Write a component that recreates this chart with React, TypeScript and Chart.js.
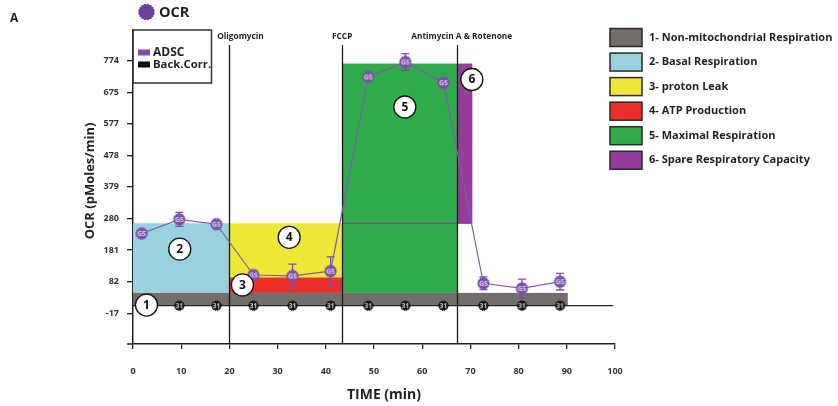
import React, { useEffect, useRef } from "react";
import { Chart, registerables } from "chart.js";

Chart.register(...registerables);

const FONT = "'Open Sans', 'DejaVu Sans', sans-serif";
const INK = "#231f20";

// Measurement times (min)
const timePoints = [1.8, 9.6, 17.3, 25.0, 33.1, 41.0, 48.8, 56.5, 64.4, 72.7, 80.7, 88.6];
// ADSC oxygen consumption rate (pMoles/min) and its SD
const adscOcr = [233, 277, 262, 103, 100, 115, 723, 770, 705, 77, 61, 82];
const adscSd = [0, 22, 8, 8, 37, 45, 0, 26, 0, 20, 29, 26];
// Background-corrected wells
const backCorrOcr = [7, 7, 7, 7, 7, 7, 7, 7, 7, 7, 7, 7];
const baselineSpan = [0, 99.6];

const xTickValues = [0, 10, 20, 30, 40, 50, 60, 70, 80, 90, 100];
const yTickValues = [-17, 82, 181, 280, 379, 478, 577, 675, 774];
const yRange = [-113, 870];

// Compound injections (min)
const injectionNames = ["Oligomycin", "FCCP", "Antimycin A & Rotenone"];
const injectionTimes = [20, 43.4, 67.3];
const injectionLabelTimes = [22.3, 43.4, 68.2];
const injectionLineTop = 823;

// Respiration parameter levels (pMoles/min)
const nonMitoLevels = [7, 47];
const basalLevel = 265;
const oligoLevel = 95;
const maximalLevel = 765;
const nonMitoEnd = 90.2;
const spareEnd = 70.4;

const legendNames = [
  "1- Non-mitochondrial Respiration",
  "2- Basal Respiration",
  "3- proton Leak",
  "4- ATP Production",
  "5- Maximal Respiration",
  "6- Spare Respiratory Capacity",
];
const legendColors = ["#736d6b", "#97d2dd", "#f0e836", "#ec2f2a", "#2fab4b", "#953d98"];

// Shaded regions: [t0, t1, v0, v1, colour index]
const regions: [number, number, number, number, number][] = [
  [0, injectionTimes[0], nonMitoLevels[1], basalLevel, 1],
  [injectionTimes[0], injectionTimes[1], nonMitoLevels[1], basalLevel, 2],
  [injectionTimes[0], injectionTimes[1], nonMitoLevels[1], oligoLevel, 3],
  [injectionTimes[1], injectionTimes[2], nonMitoLevels[1], maximalLevel, 4],
  [injectionTimes[2], spareEnd, basalLevel, maximalLevel, 5],
  [0, nonMitoEnd, nonMitoLevels[0], nonMitoLevels[1], 0],
];

// Numbered callouts: [label, time, OCR]
const callouts: [string, number, number][] = [
  ["1", 2.8, 9],
  ["2", 9.7, 184],
  ["3", 22.7, 72],
  ["4", 32.4, 221],
  ["5", 56.4, 629],
  ["6", 70.3, 715],
];

const ADSC_COLOR = "#7a4fa8";

function blobPath(g: CanvasRenderingContext2D, cx: number, cy: number, r: number) {
  const n = 16;
  g.beginPath();
  for (let i = 0; i <= 2 * n; i++) {
    const a = (i * Math.PI) / n;
    const rr = i % 2 ? r : r - 0.9;
    const px = cx + rr * Math.cos(a);
    const py = cy + rr * Math.sin(a);
    if (i === 0) g.moveTo(px, py);
    else g.lineTo(px, py);
  }
  g.closePath();
}

function makeMarker(fill: string, glyph: string, glyphColor: string, r: number, glyphSize: number) {
  const c = document.createElement("canvas");
  const size = Math.ceil(2 * r + 2);
  c.width = size;
  c.height = size;
  const g = c.getContext("2d")!;
  g.fillStyle = fill;
  blobPath(g, size / 2, size / 2, r);
  g.fill();
  g.fillStyle = glyphColor;
  g.font = `bold ${glyphSize}px ${FONT}`;
  g.textAlign = "center";
  g.textBaseline = "middle";
  g.fillText(glyph, size / 2, size / 2 + 0.5);
  return c;
}

const overlayPlugin = {
  id: "seahorseOverlay",
  beforeDatasetsDraw(chart: any) {
    const { ctx, chartArea } = chart;
    const x = chart.scales.x;
    const y = chart.scales.y;
    ctx.save();
    for (const [t0, t1, v0, v1, ci] of regions) {
      const px0 = x.getPixelForValue(t0);
      const px1 = x.getPixelForValue(t1);
      const py0 = y.getPixelForValue(v1);
      const py1 = y.getPixelForValue(v0);
      ctx.fillStyle = legendColors[ci];
      ctx.fillRect(px0, py0, px1 - px0, py1 - py0);
    }
    // basal level carried across the maximal block
    ctx.strokeStyle = "#6b3f8e";
    ctx.lineWidth = 1;
    ctx.beginPath();
    ctx.moveTo(x.getPixelForValue(injectionTimes[1]), y.getPixelForValue(basalLevel));
    ctx.lineTo(x.getPixelForValue(spareEnd), y.getPixelForValue(basalLevel));
    ctx.stroke();

    // injection markers
    ctx.strokeStyle = "#1a1a1a";
    ctx.lineWidth = 1.3;
    for (const t of injectionTimes) {
      const px = Math.round(x.getPixelForValue(t)) + 0.5;
      ctx.beginPath();
      ctx.moveTo(px, y.getPixelForValue(injectionLineTop));
      ctx.lineTo(px, chartArea.bottom);
      ctx.stroke();
    }

    // error bars
    ctx.strokeStyle = ADSC_COLOR;
    ctx.lineWidth = 1.3;
    timePoints.forEach((t, i) => {
      const sd = adscSd[i];
      if (!sd) return;
      const px = x.getPixelForValue(t);
      const top = y.getPixelForValue(adscOcr[i] + sd);
      const bot = y.getPixelForValue(adscOcr[i] - sd);
      ctx.beginPath();
      ctx.moveTo(px, top);
      ctx.lineTo(px, bot);
      ctx.moveTo(px - 4, top);
      ctx.lineTo(px + 4, top);
      ctx.moveTo(px - 4, bot);
      ctx.lineTo(px + 4, bot);
      ctx.stroke();
    });
    ctx.restore();
  },
  afterDraw(chart: any) {
    const { ctx, chartArea } = chart;
    const x = chart.scales.x;
    const y = chart.scales.y;
    ctx.save();

    // x-axis line stub left of the y axis
    ctx.strokeStyle = "#222";
    ctx.lineWidth = 1.5;
    ctx.beginPath();
    ctx.moveTo(chartArea.left - 6, chartArea.bottom);
    ctx.lineTo(chartArea.left, chartArea.bottom);
    ctx.stroke();

    // numbered callouts
    for (const [label, t, v] of callouts) {
      const px = x.getPixelForValue(t);
      const py = y.getPixelForValue(v);
      ctx.beginPath();
      ctx.arc(px, py, 11, 0, Math.PI * 2);
      ctx.fillStyle = "#ffffff";
      ctx.fill();
      ctx.strokeStyle = "#111";
      ctx.lineWidth = 1.3;
      ctx.stroke();
      ctx.fillStyle = "#111";
      ctx.font = `bold 12px ${FONT}`;
      ctx.textAlign = "center";
      ctx.textBaseline = "middle";
      ctx.fillText(label, px, py + 0.5);
    }

    // injection names
    ctx.fillStyle = INK;
    ctx.font = `bold 8.3px ${FONT}`;
    ctx.textAlign = "center";
    ctx.textBaseline = "middle";
    injectionNames.forEach((name, i) => {
      ctx.fillText(name, x.getPixelForValue(injectionLabelTimes[i]), 37);
    });

    // panel letter
    ctx.font = `bold 12px ${FONT}`;
    ctx.textAlign = "left";
    ctx.fillText("A", 10, 19);

    // heading with marker
    ctx.fillStyle = "#6b3f9e";
    blobPath(ctx, 146.5, 12, 8.5);
    ctx.fill();
    ctx.fillStyle = INK;
    ctx.font = `bold 14.5px ${FONT}`;
    ctx.fillText("OCR", 159, 12.5);

    // series key box
    const left = chartArea.left;
    ctx.strokeStyle = "#333";
    ctx.lineWidth = 1.5;
    ctx.strokeRect(left, chartArea.top, 78.5, 53);
    ctx.fillStyle = ADSC_COLOR;
    ctx.fillRect(left + 5, 49.5, 12, 6);
    ctx.fillStyle = "#111";
    ctx.fillRect(left + 5, 61.5, 12, 6);
    ctx.fillStyle = INK;
    ctx.font = `bold 12px ${FONT}`;
    ctx.fillText("ADSC", left + 20, 53);
    ctx.font = `bold 11.3px ${FONT}`;
    ctx.fillText("Back.Corr.", left + 20, 65);

    // axis titles
    ctx.font = `bold 14px ${FONT}`;
    ctx.textAlign = "center";
    ctx.fillText("TIME (min)", 384, 395);
    ctx.save();
    ctx.translate(90, 181);
    ctx.rotate(-Math.PI / 2);
    ctx.font = `bold 13px ${FONT}`;
    ctx.fillText("OCR (pMoles/min)", 0, 0);
    ctx.restore();

    // parameter legend
    legendNames.forEach((name, i) => {
      const cy = 37.5 + i * 24.55;
      ctx.fillStyle = legendColors[i];
      ctx.fillRect(610, cy - 9, 32, 18);
      ctx.strokeStyle = "#2a2a2a";
      ctx.lineWidth = 1.5;
      ctx.strokeRect(610, cy - 9, 32, 18);
      ctx.fillStyle = INK;
      ctx.font = `bold 11px ${FONT}`;
      ctx.textAlign = "left";
      ctx.textBaseline = "middle";
      ctx.fillText(name, 649, cy);
    });

    ctx.restore();
  },
};

export default function App() {
  const canvasRef = useRef<HTMLCanvasElement | null>(null);

  useEffect(() => {
    const canvas = canvasRef.current;
    if (!canvas) return;
    const adscMarker = makeMarker(ADSC_COLOR, "G5", "#d9c9ec", 6.5, 7);
    const backMarker = makeMarker("#141414", "31", "#d0d0d0", 5.5, 6.5);
    const tickFont = { family: FONT, size: 9, weight: "bold" as const };

    const chart = new Chart(canvas, {
      type: "line",
      data: {
        datasets: [
          {
            label: "ADSC",
            data: timePoints.map((t, i) => ({ x: t, y: adscOcr[i] })),
            borderColor: "#7d5cae",
            borderWidth: 1.2,
            pointStyle: adscMarker as any,
            pointRadius: 7,
            tension: 0,
          },
          {
            label: "Back.Corr.",
            data: timePoints.map((t, i) => ({ x: t, y: backCorrOcr[i] })),
            showLine: false,
            pointStyle: backMarker as any,
            pointRadius: 6,
          },
          {
            label: "baseline",
            data: baselineSpan.map((t) => ({ x: t, y: backCorrOcr[0] })),
            borderColor: "#222",
            borderWidth: 1.3,
            pointRadius: 0,
          },
        ],
      },
      options: {
        responsive: false,
        animation: false,
        devicePixelRatio: 1,
        layout: { padding: { top: 30, right: 223, left: 0, bottom: 0 } },
        plugins: { legend: { display: false }, tooltip: { enabled: false } },
        scales: {
          x: {
            type: "linear",
            min: xTickValues[0],
            max: xTickValues[xTickValues.length - 1],
            afterBuildTicks: (s: any) => {
              s.ticks = xTickValues.map((v) => ({ value: v }));
            },
            afterFit: (s: any) => {
              s.height = 62;
            },
            ticks: { font: tickFont, color: "#333", padding: 17, maxRotation: 0, autoSkip: false },
            grid: { drawOnChartArea: false, tickLength: 5, color: "#222", lineWidth: 1.3 },
            border: { color: "#222", width: 1.5 },
          },
          y: {
            type: "linear",
            min: yRange[0],
            max: yRange[1],
            afterBuildTicks: (s: any) => {
              s.ticks = yTickValues.map((v) => ({ value: v }));
            },
            afterFit: (s: any) => {
              s.width = 133;
            },
            ticks: { font: tickFont, color: "#333", padding: 8, autoSkip: false },
            grid: { drawOnChartArea: false, tickLength: 6, color: "#222", lineWidth: 1.3 },
            border: { color: "#222", width: 1.5 },
          },
        },
      },
      plugins: [overlayPlugin],
    });
    return () => chart.destroy();
  }, []);

  return (
    <div style={{ position: "fixed", left: 0, top: 0, width: 838, height: 406, background: "#ffffff" }}>
      <canvas ref={canvasRef} width={838} height={406} />
    </div>
  );
}
